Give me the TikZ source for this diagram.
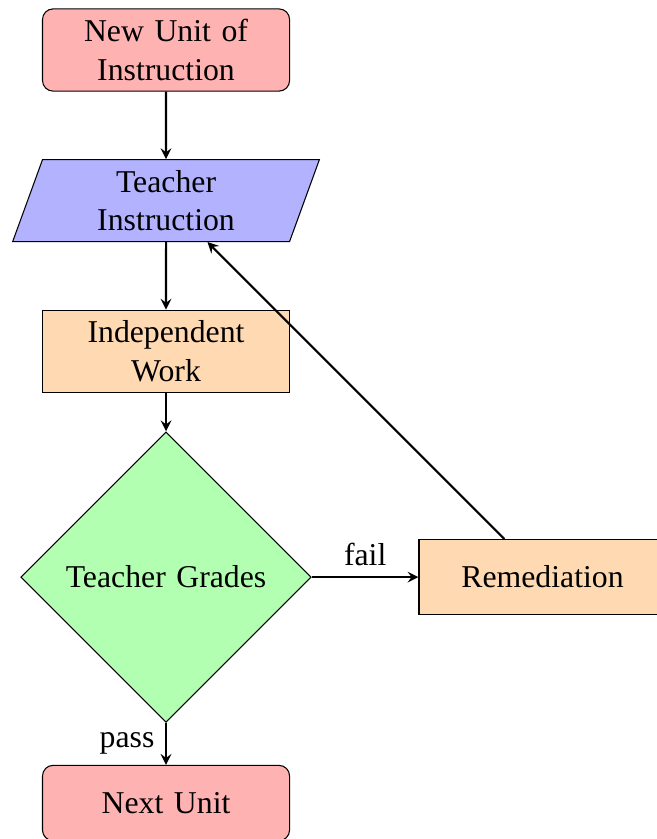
\documentclass[tikz,border=0pt,12pt]{standalone}
\usepackage{fontspec}
\setmainfont{Liberation Serif}
\usetikzlibrary{shapes.geometric,arrows}
\tikzset{
  startstop/.style={rectangle, rounded corners, minimum width=3cm, minimum height=1cm, text width=3cm, align=center, draw=black, fill=red!30},
  io/.style={trapezium, trapezium left angle=70, trapezium right angle=110, minimum width=3cm, minimum height=1cm, text width=3cm, align=center, draw=black, fill=blue!30},
  process/.style={rectangle, minimum width=3cm, minimum height=1cm, text width=3cm, align=center, draw=black, fill=orange!30},
  decision/.style={diamond, minimum width=3cm, minimum height=1cm, text width=3cm, align=center, draw=black, fill=green!30},
  arrow/.style={thick,->,>=stealth}
}
\begin{document}
\begin{tikzpicture}[font=\fontsize{12}{14.5}\selectfont]
\useasboundingbox (-2.205,0.664) rectangle (6.52,-10.478);
\node (start) [startstop] at (0,0) {New Unit of Instruction};
\node (in1) [io] at (0,-2) {Teacher Instruction};
\node (pro1) [process] at (0,-4) {Independent Work};
\node (dec1) [decision] at (0,-7) {Teacher Grades};
\node (pro2b) [process] at (5,-7) {Remediation};
\node (stop) [startstop] at (0,-10) {Next Unit};
\draw [arrow] (start) -- (in1);
\draw [arrow] (in1) -- (pro1);
\draw [arrow] (pro1) -- (dec1);
\draw [arrow] (dec1) -- node[anchor=east] {pass} (stop);
\draw [arrow] (dec1) -- node[anchor=south] {fail} (pro2b);
\draw [arrow] (pro2b) -- (in1);
\end{tikzpicture}
\end{document}
